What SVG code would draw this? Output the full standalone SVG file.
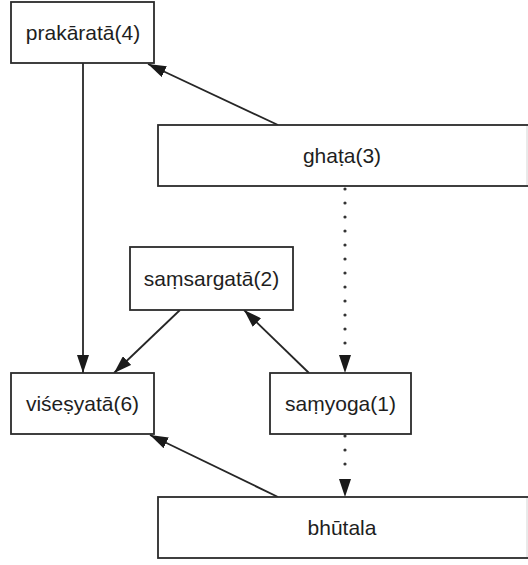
<svg xmlns="http://www.w3.org/2000/svg" width="528" height="565" viewBox="0 0 528 565">
  <style>
    .box { fill: #ffffff; stroke: #2b2b2b; stroke-width: 1.8; }
    .lbl { font-family: "Liberation Sans", Arial, sans-serif; font-size: 21px; fill: #1e1e1e; text-anchor: middle; }
    .edge { fill: none; stroke: #262626; stroke-width: 1.8; }
    .dot { fill: none; stroke: #333333; stroke-width: 3.2; stroke-linecap: round; stroke-dasharray: 0 14; }
    .faint { stroke: #d4d4d4; stroke-width: 1; }
  </style>
  <defs>
    <marker id="ah" viewBox="0 0 18 12" refX="18" refY="6" markerWidth="18" markerHeight="12" markerUnits="userSpaceOnUse" orient="auto">
      <path d="M0,0 L18,6 L0,12 Z" fill="#1a1a1a"/>
    </marker>
  </defs>
  <rect width="528" height="565" fill="#ffffff"/>

  <g id="connectors">
    <!-- ghata -> prakarata -->
    <line class="edge" x1="278" y1="125" x2="148" y2="64" marker-end="url(#ah)"/>
    <!-- prakarata -> visesyata -->
    <line class="edge" x1="83" y1="63" x2="83" y2="373" marker-end="url(#ah)"/>
    <!-- ghata ... samyoga -->
    <line class="dot" x1="345" y1="189" x2="345" y2="345"/>
    <line class="edge" x1="345" y1="352" x2="345" y2="373" marker-end="url(#ah)" stroke-opacity="0"/>
    <!-- samsargata -> visesyata -->
    <line class="edge" x1="180" y1="310" x2="114" y2="373" marker-end="url(#ah)"/>
    <!-- samyoga -> samsargata -->
    <line class="edge" x1="309" y1="373" x2="244" y2="310" marker-end="url(#ah)"/>
    <!-- samyoga ... bhutala -->
    <line class="dot" x1="345" y1="436" x2="345" y2="478"/>
    <line class="edge" x1="345" y1="478" x2="345" y2="497" marker-end="url(#ah)" stroke-opacity="0"/>
    <!-- bhutala -> visesyata -->
    <line class="edge" x1="278" y1="497" x2="150" y2="435" marker-end="url(#ah)"/>
  </g>

  <g id="prakarata">
    <rect class="box" x="11" y="2" width="143" height="61"/>
    <text class="lbl" x="83" y="40">prakāratā(4)</text>
  </g>

  <g id="ghata">
    <rect class="box" x="158" y="125" width="380" height="61"/>
    <line class="faint" x1="527" y1="126" x2="527" y2="185"/>
    <text class="lbl" x="342" y="163">ghaṭa(3)</text>
  </g>

  <g id="samsargata">
    <rect class="box" x="130" y="247" width="163" height="63"/>
    <text class="lbl" x="211.5" y="286">saṃsargatā(2)</text>
  </g>

  <g id="visesyata">
    <rect class="box" x="11" y="373" width="143" height="61"/>
    <text class="lbl" x="82.5" y="411">viśeṣyatā(6)</text>
  </g>

  <g id="samyoga">
    <rect class="box" x="270" y="373" width="141" height="61"/>
    <text class="lbl" x="340.5" y="411">saṃyoga(1)</text>
  </g>

  <g id="bhutala">
    <rect class="box" x="158" y="497" width="380" height="61"/>
    <line class="faint" x1="527" y1="498" x2="527" y2="557"/>
    <text class="lbl" x="342" y="535">bhūtala</text>
  </g>
</svg>
